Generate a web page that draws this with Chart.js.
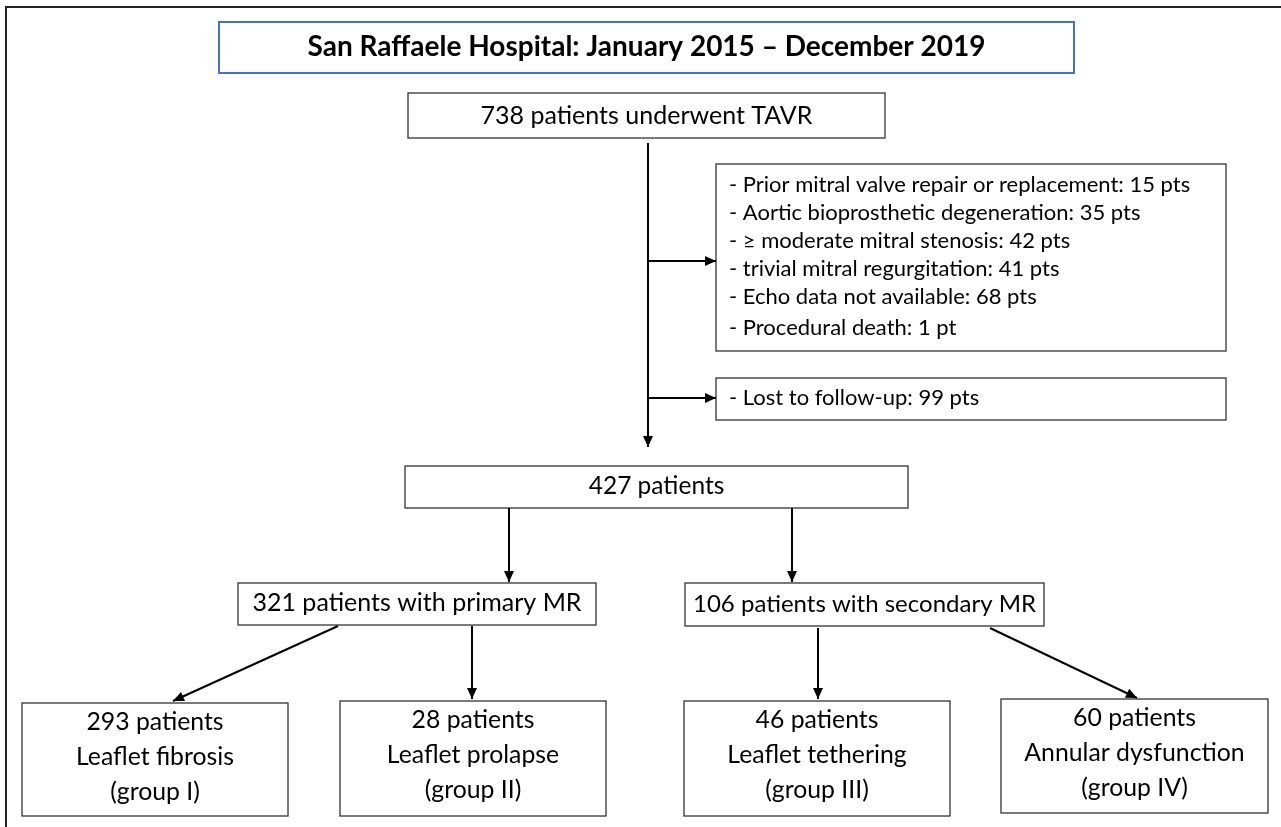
<!DOCTYPE html>
<html>
<head>
<meta charset="utf-8">
<script src="https://cdn.jsdelivr.net/npm/chart.js@4/dist/chart.umd.min.js"></script>
<style>
  html, body { margin: 0; padding: 0; background: #fff; }
  canvas { display: block; }
</style>
</head>
<body>
<canvas id="grafico" width="1281" height="827"></canvas>
<script>
// datos del diagrama
const hospital = 'San Raffaele Hospital';
const periodo = 'January 2015 – December 2019';
const totalTavr = 738;
const exclusiones = ['Prior mitral valve repair or replacement', 'Aortic bioprosthetic degeneration',
  '≥ moderate mitral stenosis', 'trivial mitral regurgitation', 'Echo data not available', 'Procedural death'];
const exclusionesN = [15, 35, 42, 41, 68, 1];
const perdidos = 99;
const cohorte = 427;
const tiposMR = ['primary', 'secondary'];
const tiposMRn = [321, 106];
const grupos = ['Leaflet fibrosis', 'Leaflet prolapse', 'Leaflet tethering', 'Annular dysfunction'];
const gruposRomano = ['I', 'II', 'III', 'IV'];
const gruposN = [293, 28, 46, 60];

const pts = (n) => n + (n === 1 ? ' pt' : ' pts');

// cajas: texto + posicion (unidades del eje = pixeles)
const cajas = [
  { lines: [hospital + ': ' + periodo], rect: [219, 22, 1074, 73], ty: [47], bold: true, size: 28, color: '#4472c4' },
  { lines: [totalTavr + ' patients underwent TAVR'], rect: [408, 93, 885, 138], ty: [116], size: 25 },
  { lines: exclusiones.map((e, i) => '- ' + e + ': ' + pts(exclusionesN[i])), rect: [716, 164, 1226, 351],
    ty: [185, 213, 241, 269, 297, 328], size: 22, left: 729 },
  { lines: ['- Lost to follow-up: ' + pts(perdidos)], rect: [716, 378, 1226, 420], ty: [398], size: 22, left: 729 },
  { lines: [cohorte + ' patients'], rect: [405, 466, 908, 508], ty: [486], size: 24.5 },
  { lines: [tiposMRn[0] + ' patients with ' + tiposMR[0] + ' MR'], rect: [238, 583, 596, 625], ty: [603], size: 25 },
  { lines: [tiposMRn[1] + ' patients with ' + tiposMR[1] + ' MR'], rect: [685, 583, 1044, 626], ty: [604], size: 24 },
];
const rectsGrupo = [[22, 703, 288, 816], [340, 701, 606, 816], [684, 701, 950, 816], [1001, 699, 1268, 813]];
gruposN.forEach((n, i) => {
  const dy = rectsGrupo[i][1] - 703;
  cajas.push({ lines: [n + ' patients', grupos[i], '(group ' + gruposRomano[i] + ')'], rect: rectsGrupo[i],
    ty: [722 + dy, 757 + dy, 792 + dy], size: 24.8 });
});

// conectores [x1, y1, x2, y2, flecha]
const conectores = [
  [648, 143, 648, 447, true],
  [648, 261, 716, 261, true],
  [648, 398, 716, 398, true],
  [509, 508, 509, 582, true],
  [792, 508, 792, 582, true],
  [338, 626, 173, 701, true],
  [472, 626, 472, 699, true],
  [818, 628, 818, 699, true],
  [990, 628, 1137, 698, true],
];

const datasets = conectores.map((c) => ({
  data: [{ x: c[0], y: c[1] }, { x: c[2], y: c[3] }],
  showLine: true,
  borderColor: '#000',
  borderWidth: 2,
  pointRadius: 0,
  flecha: c[4],
  clip: false,
}));

const FONT = 'Lato, "Open Sans", sans-serif';

const diagrama = {
  id: 'diagrama',
  beforeDatasetsDraw(chart) {
    const { ctx, scales: { x, y } } = chart;
    ctx.save();
    // marco exterior
    ctx.strokeStyle = '#222';
    ctx.lineWidth = 2;
    ctx.beginPath();
    ctx.moveTo(x.getPixelForValue(6), y.getPixelForValue(827));
    ctx.lineTo(x.getPixelForValue(6), y.getPixelForValue(7));
    ctx.lineTo(x.getPixelForValue(1281), y.getPixelForValue(7));
    ctx.stroke();

    cajas.forEach((b) => {
      const x1 = x.getPixelForValue(b.rect[0]), y1 = y.getPixelForValue(b.rect[1]);
      const x2 = x.getPixelForValue(b.rect[2]), y2 = y.getPixelForValue(b.rect[3]);
      ctx.fillStyle = '#fff';
      ctx.fillRect(x1, y1, x2 - x1, y2 - y1);
      ctx.strokeStyle = b.color || '#333';
      ctx.lineWidth = b.color ? 2 : 1.3;
      ctx.strokeRect(x1, y1, x2 - x1, y2 - y1);
      ctx.fillStyle = '#000';
      ctx.font = (b.bold ? 'bold ' : '') + b.size + 'px ' + FONT;
      ctx.textBaseline = 'middle';
      ctx.textAlign = b.left ? 'left' : 'center';
      const tx = b.left ? x.getPixelForValue(b.left) : (x1 + x2) / 2;
      b.lines.forEach((t, i) => ctx.fillText(t, tx, y.getPixelForValue(b.ty[i])));
    });
    ctx.restore();
  },
  afterDatasetsDraw(chart) {
    const ctx = chart.ctx;
    ctx.save();
    ctx.fillStyle = '#000';
    chart.data.datasets.forEach((ds, i) => {
      if (!ds.flecha) return;
      const p = chart.getDatasetMeta(i).data;
      const a = p[0], b = p[1];
      const ang = Math.atan2(b.y - a.y, b.x - a.x);
      const L = 11, W = 5;
      ctx.beginPath();
      ctx.moveTo(b.x, b.y);
      ctx.lineTo(b.x - L * Math.cos(ang) + W * Math.sin(ang), b.y - L * Math.sin(ang) - W * Math.cos(ang));
      ctx.lineTo(b.x - L * Math.cos(ang) - W * Math.sin(ang), b.y - L * Math.sin(ang) + W * Math.cos(ang));
      ctx.closePath();
      ctx.fill();
    });
    ctx.restore();
  },
};

new Chart(document.getElementById('grafico'), {
  type: 'scatter',
  data: { datasets: datasets },
  options: {
    responsive: false,
    animation: false,
    devicePixelRatio: 1,
    layout: { padding: 0 },
    plugins: { legend: { display: false }, tooltip: { enabled: false } },
    scales: {
      x: { type: 'linear', min: 0, max: 1281, display: false },
      y: { type: 'linear', min: 0, max: 827, reverse: true, display: false },
    },
  },
  plugins: [diagrama],
});
</script>
</body>
</html>
